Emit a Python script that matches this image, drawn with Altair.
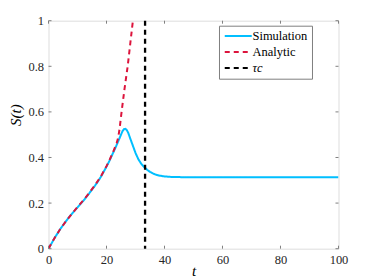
import altair as alt
import pandas as pd

# ---- data ----
t_sim = [0, 1, 2, 3, 4, 5, 6, 7, 8, 9, 10, 11, 12, 13, 14, 15, 16, 17, 18, 19, 20,
         21, 22, 23, 24, 25, 25.5, 26, 26.5, 27, 27.5, 28, 29, 30, 31, 32, 33, 34,
         35, 36, 37, 38, 40, 42, 45, 50, 60, 70, 80, 90, 100]
s_sim = [0, 0.022, 0.045, 0.065, 0.085, 0.103, 0.12, 0.137, 0.152, 0.167, 0.181,
         0.196, 0.21, 0.226, 0.242, 0.259, 0.276, 0.294, 0.314, 0.337, 0.36,
         0.385, 0.413, 0.44, 0.47, 0.5, 0.515, 0.524, 0.526, 0.52, 0.508, 0.49,
         0.455, 0.42, 0.392, 0.372, 0.358, 0.346, 0.337, 0.33, 0.325, 0.321,
         0.317, 0.315, 0.314, 0.313, 0.313, 0.313, 0.313, 0.313, 0.313]

t_ana = [0, 2, 4, 6, 8, 10, 12, 14, 16, 18, 20, 21, 22, 23, 23.5, 24, 24.5, 25.2,
         26.2, 27.3, 28.2, 29.1]
s_ana = [0, 0.045, 0.085, 0.12, 0.152, 0.183, 0.212, 0.244, 0.278, 0.316, 0.362,
         0.388, 0.416, 0.447, 0.463, 0.485, 0.525, 0.6, 0.7, 0.8, 0.9, 1.0]

tau_c = [33.3]

series_names = ["Simulation", "Analytic", "τc"]
series_colors = ["#00BFFF", "#DC143C", "#000000"]
series_dash = [[1, 0], [5, 4], [5, 4]]

x_ticks = [0, 20, 40, 60, 80, 100]
y_ticks = [0, 0.2, 0.4, 0.6, 0.8, 1.0]

# ---- tables ----
lines = pd.concat([
    pd.DataFrame({"t": t_sim, "S": s_sim, "series": series_names[0]}),
    pd.DataFrame({"t": t_ana, "S": s_ana, "series": series_names[1]}),
])
tau_df = pd.DataFrame({"t": tau_c, "series": series_names[2]})
xt_df = pd.DataFrame({"t": x_ticks})
yt_df = pd.DataFrame({"S": y_ticks})

W, H = 290, 228
FONT = "'Liberation Serif', 'Times New Roman', serif"
AX = "#7f7f7f"

xscale = alt.Scale(domain=[0, 100], nice=False)
yscale = alt.Scale(domain=[0, 1], nice=False)
color = alt.Color("series:N", scale=alt.Scale(domain=series_names, range=series_colors),
                  sort=series_names,
                  legend=alt.Legend(title=None, orient="none", legendX=170.5, legendY=5,
                                    symbolType="M-1,0H5", symbolSize=81,
                                    symbolStrokeWidth=2, labelFont=FONT,
                                    labelFontSize=12.5, labelColor="#000000",
                                    labelFontStyle=alt.ExprRef("datum.label == 'τc' ? 'italic' : 'normal'"),
                                    labelOffset=17, strokeColor=AX, fillColor="white",
                                    padding=4, rowPadding=3))
dash = alt.StrokeDash("series:N", scale=alt.Scale(domain=series_names, range=series_dash),
                      sort=series_names, legend=None)

xaxis = alt.Axis(values=x_ticks, title="t", titleFontStyle="italic",
                 titleFont=FONT, titleFontSize=15, titleFontWeight="normal",
                 titleY=22, titleBaseline="middle",
                 labelFont=FONT, labelFontSize=12.5, labelColor="#262626",
                 labelPadding=5, ticks=False, domain=False, grid=False,
                 labelFlush=False)
yaxis = alt.Axis(values=y_ticks, title="S(t)", titleFontStyle="italic",
                 titleFont=FONT, titleFontSize=15, titleFontWeight="normal",
                 titleX=-33.5, titleY=94, titleBaseline="middle",
                 labelFont=FONT, labelFontSize=12.5, labelColor="#262626",
                 labelPadding=5, ticks=False, domain=False, grid=False,
                 labelFlush=False,
                 labelExpr="datum.value == 0 ? '0' : datum.value == 1 ? '1' : format(datum.value, '.1f')")

base_lines = alt.Chart(lines).mark_line(strokeWidth=2, clip=True).encode(
    x=alt.X("t:Q", scale=xscale, axis=xaxis),
    y=alt.Y("S:Q", scale=yscale, axis=yaxis),
    color=color,
    strokeDash=dash,
)

tau_rule = alt.Chart(tau_df).mark_rule(strokeWidth=2.3).encode(
    x=alt.X("t:Q", scale=xscale),
    color=color,
    strokeDash=dash,
)

tick_style = dict(color=AX, strokeWidth=1)
bx = alt.Chart(xt_df).mark_rule(**tick_style).encode(
    x=alt.X("t:Q", scale=xscale), y=alt.value(H), y2=alt.value(H - 3))
tx = alt.Chart(xt_df).mark_rule(**tick_style).encode(
    x=alt.X("t:Q", scale=xscale), y=alt.value(0), y2=alt.value(3))
ly = alt.Chart(yt_df).mark_rule(**tick_style).encode(
    y=alt.Y("S:Q", scale=yscale), x=alt.value(0), x2=alt.value(3))
ry = alt.Chart(yt_df).mark_rule(**tick_style).encode(
    y=alt.Y("S:Q", scale=yscale), x=alt.value(W), x2=alt.value(W - 3))

chart = alt.layer(base_lines, tau_rule, bx, tx, ly, ry).properties(
    width=W, height=H,
    autosize=alt.AutoSizeParams(type="none"),
    padding={"left": 40.5, "top": 12.7, "right": 20, "bottom": 32},
).configure_view(stroke=AX, strokeWidth=1).configure(background="white")

chart.save("out.html", embed_options={"renderer": "svg", "actions": False})
